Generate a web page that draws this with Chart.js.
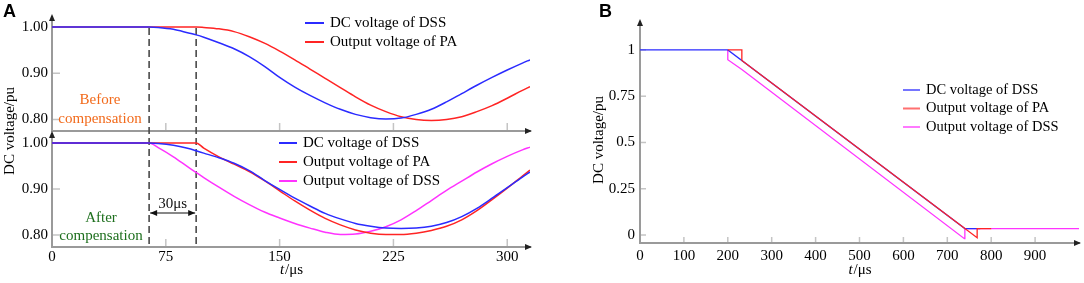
<!DOCTYPE html>
<html><head><meta charset="utf-8">
<script src="https://cdn.jsdelivr.net/npm/chart.js@4/dist/chart.umd.min.js"></script>
<style>
html,body{margin:0;padding:0;background:#fff;width:1084px;height:283px;overflow:hidden;}
canvas{position:absolute;left:0;top:0;}
</style></head><body>
<canvas id="cTop" width="1084" height="283"></canvas>
<canvas id="cBot" width="1084" height="283"></canvas>
<canvas id="cB" width="1084" height="283"></canvas>
<script>
// ---------- DATA ----------
const timeA = [0,50,64,70,80,90,95,100,110,120,130,140,150,160,170,180,190,200,210,220,230,240,250,260,270,280,290,300,310,315];
// Panel A, before compensation
const beforeDss = [1,1,1,0.999,0.995,0.987,0.983,0.978,0.966,0.953,0.936,0.915,0.891,0.870,0.852,0.836,0.822,0.811,0.804,0.801,0.803,0.811,0.822,0.838,0.856,0.874,0.891,0.907,0.922,0.929];
const beforePa  = [1,1,1,1,1,1,1,0.999,0.996,0.990,0.979,0.965,0.948,0.929,0.909,0.889,0.869,0.849,0.831,0.817,0.806,0.800,0.798,0.800,0.806,0.817,0.830,0.846,0.863,0.871];
// Panel A, after compensation
const afterDss  = [1,1,1,0.999,0.995,0.988,0.983,0.978,0.968,0.956,0.940,0.919,0.899,0.880,0.863,0.847,0.835,0.825,0.819,0.815,0.814,0.815,0.819,0.827,0.840,0.858,0.880,0.903,0.926,0.937];
const afterPa   = [1,1,1,1,1,1,1,0.989,0.970,0.954,0.938,0.918,0.896,0.874,0.854,0.836,0.822,0.811,0.804,0.801,0.801,0.804,0.810,0.819,0.833,0.853,0.877,0.902,0.928,0.941];
const afterOut  = [1,1,1,0.990,0.970,0.947,0.936,0.925,0.904,0.884,0.866,0.850,0.837,0.825,0.815,0.806,0.801,0.802,0.808,0.818,0.833,0.853,0.875,0.897,0.917,0.937,0.955,0.971,0.985,0.991];
// Panel B
const bDssT = [0,200,740,775];
const bDssV = [1,1,0.035,0.035];
const bPaT  = [200,232,232,768,768,800];
const bPaV  = [1,1,0.943,-0.015,0.035,0.035];
const bOutT = [200,200,232,739,740,1000];
const bOutV = [1,0.947,0.894,-0.02,0.035,0.035];
// Ticks
const xTicksA = [0,75,150,225,300];
const yTicksA = [0.80,0.90,1.00];
const xTicksB = [0,100,200,300,400,500,600,700,800,900];
const yTicksB = [0,0.25,0.5,0.75,1];
const seriesNames = ['DC voltage of DSS','Output voltage of PA','Output voltage of DSS'];

// ---------- STYLE ----------
const BLUE='#2b2bff', RED='#ff2424', PINK='#ff33ff';
const AXIS='#9a9a9a';
const SERIF='"Liberation Serif","Times New Roman",serif';

const pts=(t,v)=>t.map((x,i)=>({x:x,y:v[i]}));

const axisDeco = {
  id:'axisDeco',
  beforeDatasetsDraw(chart,args,o){
    const ctx=chart.ctx, xs=chart.scales.x, ys=chart.scales.y, a=chart.chartArea;
    ctx.save();
    ctx.strokeStyle='#c4c4c4'; ctx.lineWidth=1.5;
    xs.ticks.forEach(t=>{const px=xs.getPixelForValue(t.value); if(Math.abs(px-a.left)<3)return;
      ctx.beginPath();ctx.moveTo(px,a.bottom-1);ctx.lineTo(px,a.bottom-1-o.tickLen);ctx.stroke();});
    ys.ticks.forEach(t=>{const py=ys.getPixelForValue(t.value);
      ctx.beginPath();ctx.moveTo(a.left+1,py);ctx.lineTo(a.left+1+o.tickLen,py);ctx.stroke();});
    (o.dashes||[]).forEach(v=>{const px=xs.getPixelForValue(v);
      ctx.strokeStyle='#4a4a4a';ctx.lineWidth=1.6;ctx.setLineDash([7,4]);
      ctx.beginPath();ctx.moveTo(px,ys.getPixelForValue(1)+1);ctx.lineTo(px,o.dashBottom);ctx.stroke();});
    ctx.restore();
  },
  afterDraw(chart,args,o){
    const ctx=chart.ctx, a=chart.chartArea;
    ctx.save(); ctx.fillStyle='#222';
    ctx.beginPath();ctx.moveTo(a.right+2,a.bottom);ctx.lineTo(a.right-5,a.bottom-3);ctx.lineTo(a.right-5,a.bottom+3);ctx.closePath();ctx.fill();
    ctx.beginPath();ctx.moveTo(a.left,a.top-3);ctx.lineTo(a.left-3,a.top+4);ctx.lineTo(a.left+3,a.top+4);ctx.closePath();ctx.fill();
    (o.texts||[]).forEach(t=>{ctx.font=t.font;ctx.fillStyle=t.color;ctx.textAlign='center';ctx.textBaseline='middle';ctx.fillText(t.s,t.x,t.y);});
    if(o.span){const xs=chart.scales.x;const x1=xs.getPixelForValue(o.span.from),x2=xs.getPixelForValue(o.span.to),y=o.span.y;
      ctx.strokeStyle='#111';ctx.lineWidth=1.2;ctx.beginPath();ctx.moveTo(x1+1,y);ctx.lineTo(x2-1,y);ctx.stroke();
      ctx.fillStyle='#111';
      ctx.beginPath();ctx.moveTo(x1+1,y);ctx.lineTo(x1+8,y-3);ctx.lineTo(x1+8,y+3);ctx.closePath();ctx.fill();
      ctx.beginPath();ctx.moveTo(x2-1,y);ctx.lineTo(x2-8,y-3);ctx.lineTo(x2-8,y+3);ctx.closePath();ctx.fill();
      ctx.font='15px '+SERIF;ctx.textAlign='center';ctx.textBaseline='middle';ctx.fillText(o.span.label,(x1+x2)/2,o.span.ty);}
    if(o.ytitle){ctx.save();ctx.translate(o.ytitle.x,o.ytitle.y);ctx.rotate(-Math.PI/2);ctx.font='15px '+SERIF;ctx.fillStyle='#000';ctx.textAlign='center';ctx.textBaseline='middle';ctx.fillText(o.ytitle.s,0,0);ctx.restore();}
    if(o.xtitle){ctx.fillStyle='#000';ctx.textBaseline='middle';ctx.textAlign='left';
      ctx.font='italic 15px '+SERIF;const w1=ctx.measureText('t').width;
      ctx.font='15px '+SERIF;const w2=ctx.measureText('/μs').width;
      const cx=(a.left+a.right)/2, sx=cx-(w1+w2)/2;
      ctx.font='italic 15px '+SERIF;ctx.fillText('t',sx,o.xtitle.y);
      ctx.font='15px '+SERIF;ctx.fillText('/μs',sx+w1+1,o.xtitle.y);}
    if(o.panel){ctx.font='bold 18px "Liberation Sans",Arial,sans-serif';ctx.fillStyle='#000';ctx.textAlign='left';ctx.textBaseline='middle';ctx.fillText(o.panel.s,o.panel.x,o.panel.y);}
    if(o.legend){const L=o.legend;ctx.font=L.size+'px '+SERIF;ctx.textAlign='left';ctx.textBaseline='middle';
      chart.data.datasets.forEach((d,i)=>{const y=L.y+i*L.row;ctx.globalAlpha=L.alpha;ctx.strokeStyle=d.borderColor;ctx.lineWidth=2;
        ctx.beginPath();ctx.moveTo(L.x,y);ctx.lineTo(L.x+L.len,y);ctx.stroke();ctx.globalAlpha=1;ctx.fillStyle='#000';ctx.fillText(d.label,L.x+L.len+6,y);});}
    ctx.restore();
  }
};

function makeChart(id,cfg){
  const area=cfg.area;
  return new Chart(document.getElementById(id),{
    type:'line',
    data:{datasets:cfg.datasets},
    plugins:[axisDeco],
    options:{
      responsive:false,animation:false,devicePixelRatio:1,
      layout:{padding:{left:area.left-cfg.yW,top:area.top,right:1084-area.right,bottom:283-area.bottom-(cfg.showX?30:0)}},
      plugins:{legend:{display:false},tooltip:{enabled:false},axisDeco:cfg.deco},
      elements:{point:{radius:0}},
      scales:{
        x:{type:'linear',min:cfg.xmin,max:cfg.xmax,
          afterBuildTicks:s=>{s.ticks=cfg.xTicks.map(v=>({value:v}));},
          afterFit:s=>{s.height=cfg.showX?30:0;},
          ticks:{display:cfg.showX,color:'#000',font:{family:SERIF,size:15},padding:cfg.xPad,maxRotation:0,autoSkip:false,callback:v=>String(v)},
          grid:{display:false,drawTicks:false},border:{display:true,color:AXIS,width:2}},
        y:{type:'linear',min:cfg.ymin,max:cfg.ymax,
          afterBuildTicks:s=>{s.ticks=cfg.yTicks.map(v=>({value:v}));},
          afterFit:s=>{s.width=cfg.yW;},
          ticks:{color:'#000',font:{family:SERIF,size:cfg.yFont},padding:cfg.yPad,callback:cfg.yFmt},
          grid:{display:false,drawTicks:false},border:{display:true,color:AXIS,width:2}}
      }
    }
  });
}

const lineA=(label,t,v,c,order)=>({label:label,data:pts(t,v),borderColor:c,borderWidth:1.5,pointRadius:0,fill:false,cubicInterpolationMode:'monotone',order:order});

makeChart('cTop',{
  area:{left:52,right:530,top:17,bottom:131},yW:52,showX:false,xPad:1,yPad:4,yFont:15,
  xmin:0,xmax:315,ymin:0.7751,ymax:1.0216,xTicks:xTicksA,yTicks:yTicksA,yFmt:v=>v.toFixed(2),
  datasets:[lineA(seriesNames[0],timeA,beforeDss,BLUE,0),lineA(seriesNames[1],timeA,beforePa,RED,1)],
  deco:{tickLen:7,dashes:[64,95],dashBottom:247,
    texts:[{s:'Before',x:100,y:100,font:'15px '+SERIF,color:'#f26a1b'},{s:'compensation',x:100,y:119,font:'15px '+SERIF,color:'#f26a1b'}],
    panel:{s:'A',x:3,y:12},
    legend:{x:305,y:23,row:19,len:19,size:15,alpha:1}}
});

makeChart('cBot',{
  area:{left:52,right:530,top:134,bottom:247},yW:52,showX:true,xPad:1,yPad:4,yFont:15,
  xmin:0,xmax:315,ymin:0.7739,ymax:1.0196,xTicks:xTicksA,yTicks:yTicksA,yFmt:v=>v.toFixed(2),
  datasets:[lineA(seriesNames[0],timeA,afterDss,BLUE,0),lineA(seriesNames[1],timeA,afterPa,RED,1),lineA(seriesNames[2],timeA,afterOut,PINK,2)],
  deco:{tickLen:7,
    texts:[{s:'After',x:101,y:218,font:'15px '+SERIF,color:'#1d6f1d'},{s:'compensation',x:101,y:236,font:'15px '+SERIF,color:'#1d6f1d'}],
    span:{from:64,to:95,y:213,ty:204,label:'30μs'},
    ytitle:{s:'DC voltage/pu',x:10,y:131},xtitle:{y:270},
    legend:{x:279,y:143,row:19,len:18,size:15,alpha:1}}
});

const lineB=(label,t,v,c,order)=>({label:label,data:pts(t,v),borderColor:c,borderWidth:1.3,pointRadius:0,fill:false,tension:0,order:order});

makeChart('cB',{
  area:{left:640,right:1079,top:22,bottom:243},yW:60,showX:true,xPad:4,yPad:5,yFont:15,
  xmin:0,xmax:1000,ymin:-0.0432,ymax:1.151,xTicks:xTicksB,yTicks:yTicksB,yFmt:v=>String(v),
  datasets:[lineB(seriesNames[0],bDssT,bDssV,BLUE,1),lineB(seriesNames[1],bPaT,bPaV,RED,0),lineB(seriesNames[2],bOutT,bOutV,PINK,2)],
  deco:{tickLen:5,
    ytitle:{s:'DC voltage/pu',x:599,y:140},xtitle:{y:270},
    panel:{s:'B',x:599,y:12},
    legend:{x:903,y:90,row:18.5,len:17,size:14.5,alpha:0.65}}
});
</script>
</body></html>
